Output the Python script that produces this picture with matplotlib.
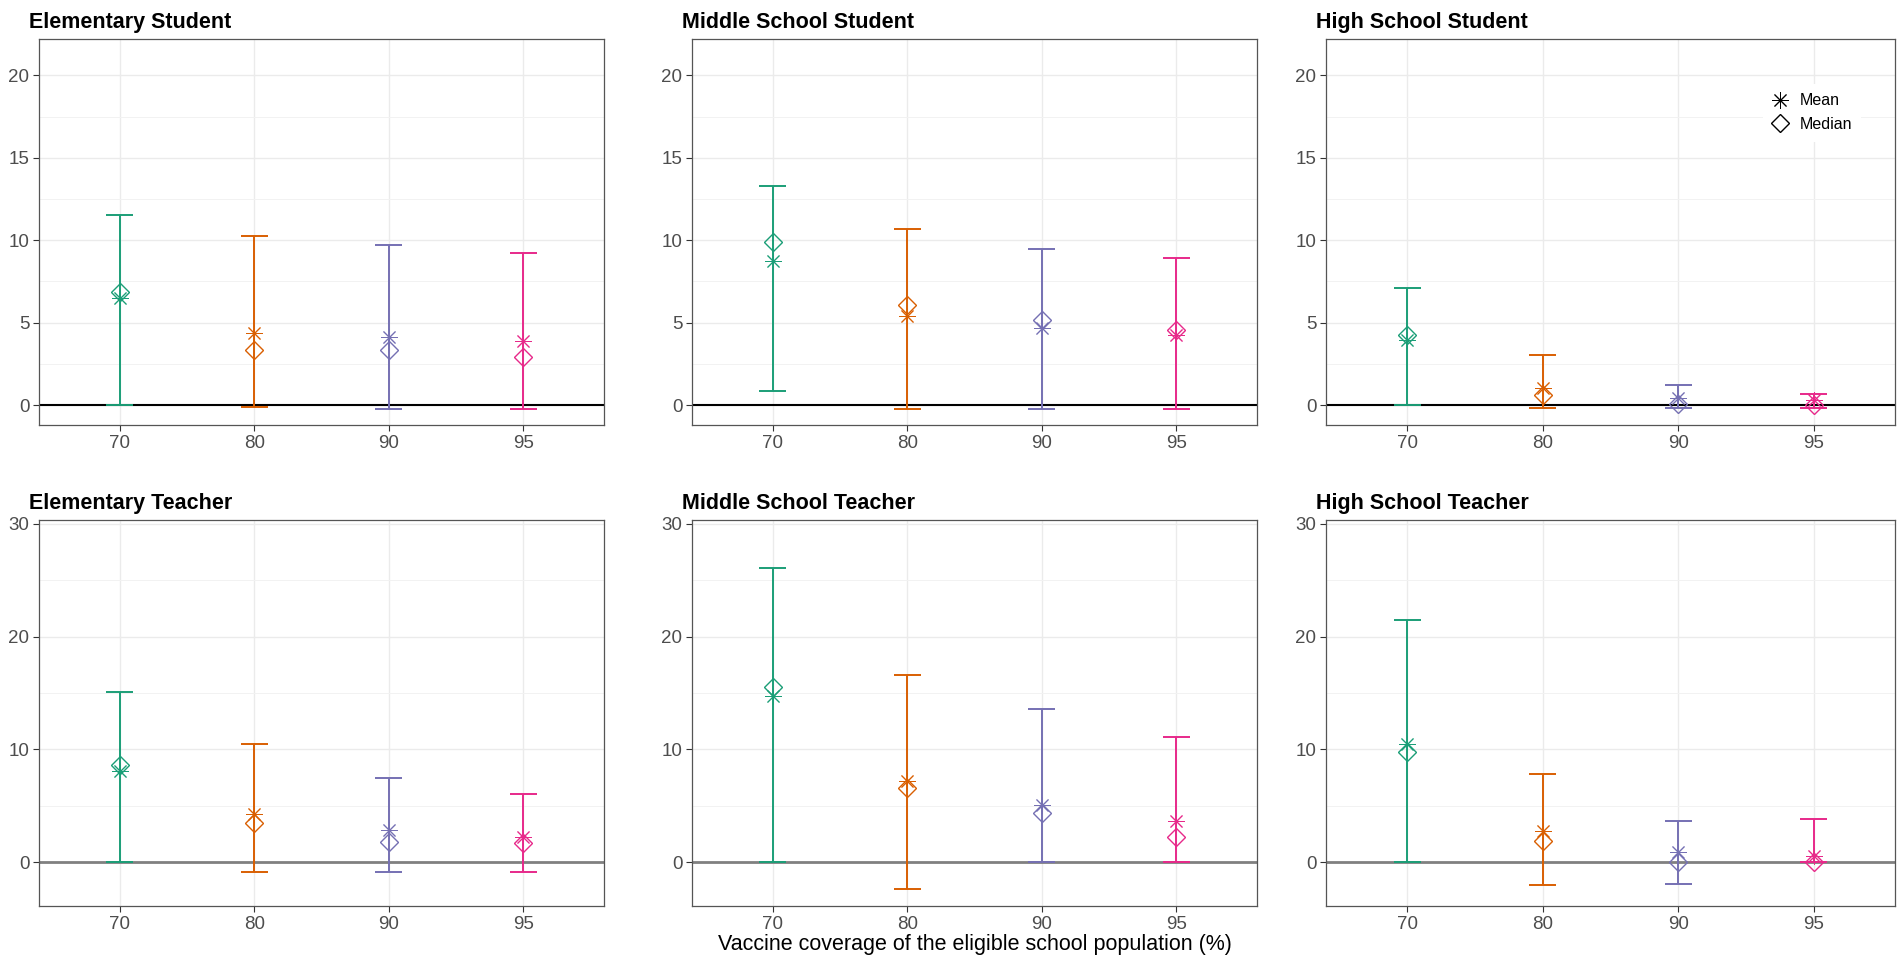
import numpy as np
import matplotlib
matplotlib.use("Agg")
import matplotlib.pyplot as plt
from matplotlib.lines import Line2D
from matplotlib.ticker import MultipleLocator

plt.rcParams['font.family'] = ['Liberation Sans', 'DejaVu Sans']

coverage = ['70', '80', '90', '95']
colors = ['#1B9E77', '#D95F02', '#7570B3', '#E7298A']

titles = ['Elementary Student', 'Middle School Student', 'High School Student',
          'Elementary Teacher', 'Middle School Teacher', 'High School Teacher']

# mean, median, lower, upper per panel
mean_es = [6.5, 4.38, 4.14, 3.9]
median_es = [6.87, 3.37, 3.37, 2.93]
lower_es = [0.0, -0.1, -0.2, -0.2]
upper_es = [11.52, 10.24, 9.7, 9.21]

mean_ms = [8.73, 5.39, 4.69, 4.28]
median_ms = [9.88, 6.1, 5.15, 4.55]
lower_ms = [0.85, -0.2, -0.2, -0.2]
upper_ms = [13.27, 10.71, 9.45, 8.93]

mean_hs = [3.98, 1.07, 0.44, 0.3]
median_hs = [4.28, 0.6, 0.1, 0.0]
lower_hs = [0.0, -0.15, -0.15, -0.15]
upper_hs = [7.13, 3.07, 1.21, 0.65]

mean_et = [8.1, 4.26, 2.87, 2.22]
median_et = [8.57, 3.46, 1.77, 1.68]
lower_et = [0.0, -0.92, -0.92, -0.92]
upper_et = [15.08, 10.46, 7.45, 6.0]

mean_mt = [14.75, 7.21, 5.03, 3.6]
median_mt = [15.49, 6.56, 4.35, 2.19]
lower_mt = [0.0, -2.36, 0.0, 0.0]
upper_mt = [26.13, 16.61, 13.57, 11.06]

mean_ht = [10.46, 2.72, 0.89, 0.56]
median_ht = [9.75, 1.83, 0.0, 0.0]
lower_ht = [0.0, -2.01, -1.95, 0.0]
upper_ht = [21.49, 7.8, 3.67, 3.81]

means = [mean_es, mean_ms, mean_hs, mean_et, mean_mt, mean_ht]
medians = [median_es, median_ms, median_hs, median_et, median_mt, median_ht]
lowers = [lower_es, lower_ms, lower_hs, lower_et, lower_mt, lower_ht]
uppers = [upper_es, upper_ms, upper_hs, upper_et, upper_mt, upper_ht]

W, H = 1902, 959
fig = plt.figure(figsize=(W / 100, H / 100), dpi=100)

cols = [(39, 604), (692, 1257), (1326, 1895)]
rows = [(39, 425), (520, 906)]

x = np.arange(1, len(coverage) + 1)

for i in range(6):
    r, c = divmod(i, 3)
    x0, x1 = cols[c]
    y0, y1 = rows[r]
    ax = fig.add_axes([x0 / W, 1 - y1 / H, (x1 - x0) / W, (y1 - y0) / H])

    if r == 0:
        ax.set_ylim(-1.2, 22.2)
        ax.yaxis.set_major_locator(MultipleLocator(5))
        ax.yaxis.set_minor_locator(MultipleLocator(2.5))
        ax.axhline(0, color='black', lw=1.5, zorder=2)
    else:
        ax.set_ylim(-3.9, 30.35)
        ax.yaxis.set_major_locator(MultipleLocator(10))
        ax.yaxis.set_minor_locator(MultipleLocator(5))
        ax.axhline(0, color='#808080', lw=2, zorder=2)
    ax.set_xlim(0.4, 4.6)
    ax.set_xticks(x)
    ax.set_xticklabels(coverage)

    ax.set_axisbelow(True)
    ax.grid(True, which='major', color='#EBEBEB', lw=1.0)
    ax.grid(True, which='minor', axis='y', color='#F2F2F2', lw=0.7)
    ax.tick_params(which='minor', length=0)
    ax.tick_params(which='major', length=4, width=0.8, color='#333333',
                   labelsize=13.5, labelcolor='#4D4D4D', pad=3)
    for s in ax.spines.values():
        s.set_color('#555555')
        s.set_linewidth(0.9)

    for j in range(len(coverage)):
        col = colors[j]
        ax.vlines(x[j], lowers[i][j], uppers[i][j], color=col, lw=1.4, zorder=3)
        ax.hlines([lowers[i][j], uppers[i][j]], x[j] - 0.1, x[j] + 0.1,
                  color=col, lw=1.4, zorder=3)
        ax.plot(x[j], medians[i][j], marker='D', ms=9, mfc='none', mec=col,
                mew=1.0, ls='none', zorder=4)
        ax.plot(x[j], means[i][j], marker=(8, 2, 0), ms=12, mec=col, color=col,
                mew=0.7, ls='none', zorder=4)

    ax.text(-10 / (x1 - x0), 1 + 11 / (y1 - y0), titles[i], transform=ax.transAxes,
            ha='left', va='baseline', fontsize=15.5, fontweight='bold', color='black')

    if i == 2:
        handles = [Line2D([], [], marker=(8, 2, 0), ms=12, color='black', mew=0.7, ls='none'),
                   Line2D([], [], marker='D', ms=9, mfc='none', mec='black', mew=1.0, ls='none')]
        leg = ax.legend(handles, ['Mean', 'Median'], loc='upper right',
                        bbox_to_anchor=(0.955, 0.905), frameon=True, fontsize=11.5,
                        handlelength=1.0, handletextpad=0.7, borderpad=0.6,
                        labelspacing=0.55)
        leg.get_frame().set_facecolor('white')
        leg.get_frame().set_edgecolor('none')
        leg.get_frame().set_alpha(1)

    if i == 4:
        ax.set_xlabel('Vaccine coverage of the eligible school population (%)',
                      fontsize=15.5, color='black', labelpad=1)

fig.savefig('out.png', dpi=100)
